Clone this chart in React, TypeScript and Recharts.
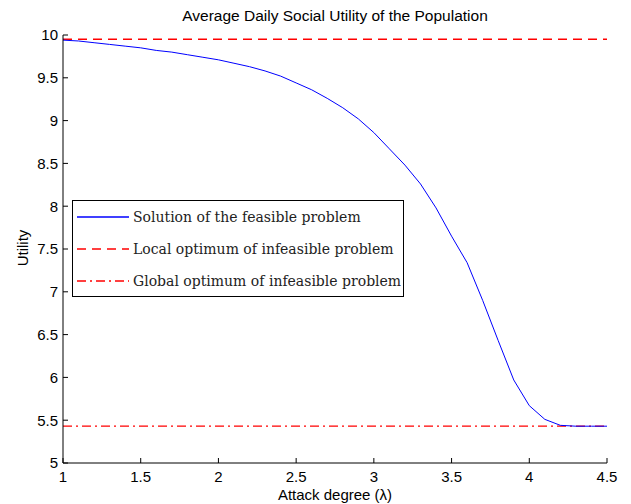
import { LineChart, Line, XAxis, YAxis } from 'recharts';

const attack = [1.0, 1.1, 1.2, 1.3, 1.4, 1.5, 1.6, 1.7, 1.8, 1.9, 2.0, 2.1, 2.2, 2.3, 2.4, 2.5, 2.6, 2.7, 2.8, 2.9, 3.0, 3.1, 3.2, 3.3, 3.4, 3.5, 3.6, 3.7, 3.8, 3.9, 4.0, 4.1, 4.2, 4.3, 4.4, 4.5];
const feasible = [9.94, 9.93, 9.91, 9.89, 9.87, 9.85, 9.82, 9.8, 9.77, 9.74, 9.71, 9.67, 9.63, 9.58, 9.52, 9.44, 9.36, 9.26, 9.15, 9.02, 8.86, 8.67, 8.48, 8.26, 7.98, 7.65, 7.34, 6.9, 6.43, 5.97, 5.67, 5.51, 5.44, 5.43, 5.43, 5.43];
const localOptimum = 9.95;
const globalOptimum = 5.43;
const xTicks = [1, 1.5, 2, 2.5, 3, 3.5, 4, 4.5];
const yTicks = [5, 5.5, 6, 6.5, 7, 7.5, 8, 8.5, 9, 9.5, 10];

const legendItems = [
  { name: 'Solution of the feasible problem', color: '#0000ff', dash: undefined },
  { name: 'Local optimum of infeasible problem', color: '#ff0000', dash: '9 6' },
  { name: 'Global optimum of infeasible problem', color: '#ff0000', dash: '9 4 2 4' },
];

const data = attack.map((a, i) => ({
  attack: a,
  feasible: feasible[i],
  local: localOptimum,
  global: globalOptimum,
}));

const sans = '"Liberation Sans", Arial, sans-serif';
const serif = '"DejaVu Serif", serif';

const XTick = (props: any) => {
  const { x, y, payload } = props;
  return (
    <g>
      <line x1={x} y1={y} x2={x} y2={y - 5} stroke="#000" />
      <text x={x} y={y + 8} dy="0.71em" textAnchor="middle" fontSize={15} fontFamily={sans} fill="#000">
        {payload.value}
      </text>
    </g>
  );
};

const YTick = (props: any) => {
  const { x, y, payload } = props;
  return (
    <g>
      <line x1={x} y1={y} x2={x + 5} y2={y} stroke="#000" />
      <text x={x - 5} y={y} dy="0.36em" textAnchor="end" fontSize={15} fontFamily={sans} fill="#000">
        {payload.value}
      </text>
    </g>
  );
};

const LegendBox = () => (
  <div style={{ position: 'absolute', left: 72, top: 200, width: 330, height: 95, border: '1.5px solid #000', background: '#fff' }}>
    {legendItems.map((it, i) => (
      <div key={i} style={{ display: 'flex', alignItems: 'center', height: 32 }}>
        <svg width={60} height={10} style={{ flex: 'none' }}>
          <line x1={4} y1={5} x2={56} y2={5} stroke={it.color} strokeWidth={1.3} strokeDasharray={it.dash} />
        </svg>
        <span style={{ fontFamily: serif, fontSize: 14, color: '#222', whiteSpace: 'nowrap' }}>{it.name}</span>
      </div>
    ))}
  </div>
);

export default function App() {
  return (
    <div style={{ position: 'absolute', left: 0, top: 0, width: 631, height: 504, background: '#fff' }}>
      <LineChart width={631} height={504} data={data} margin={{ top: 35, right: 24, bottom: 11, left: 23 }}>
        <XAxis
          dataKey="attack"
          type="number"
          domain={[1, 4.5]}
          ticks={xTicks}
          interval={0}
          tickSize={0}
          tickMargin={0}
          height={30}
          stroke="#000"
          tick={<XTick />}
        />
        <YAxis
          type="number"
          domain={[5, 10]}
          ticks={yTicks}
          interval={0}
          tickSize={0}
          tickMargin={0}
          width={40}
          stroke="#000"
          tick={<YTick />}
        />
        <Line dataKey="local" stroke="#ff0000" strokeWidth={1.5} strokeDasharray="9 6" dot={false} isAnimationActive={false} />
        <Line dataKey="global" stroke="#ff0000" strokeWidth={1.3} strokeDasharray="9 4 2 4" dot={false} isAnimationActive={false} />
        <Line dataKey="feasible" type="linear" stroke="#0000ff" strokeWidth={1} dot={false} isAnimationActive={false} />
      </LineChart>
      <LegendBox />
      <div style={{ position: 'absolute', left: 0, top: 7, width: 670, textAlign: 'center', fontFamily: sans, fontSize: 15.5 }}>
        Average Daily Social Utility of the Population
      </div>
      <div style={{ position: 'absolute', left: 0, top: 486, width: 670, textAlign: 'center', fontFamily: sans, fontSize: 15 }}>
        Attack degree (λ)
      </div>
      <div style={{ position: 'absolute', left: 22, top: 248, transform: 'translate(-50%, -50%) rotate(-90deg)', fontFamily: sans, fontSize: 15 }}>
        Utility
      </div>
    </div>
  );
}
